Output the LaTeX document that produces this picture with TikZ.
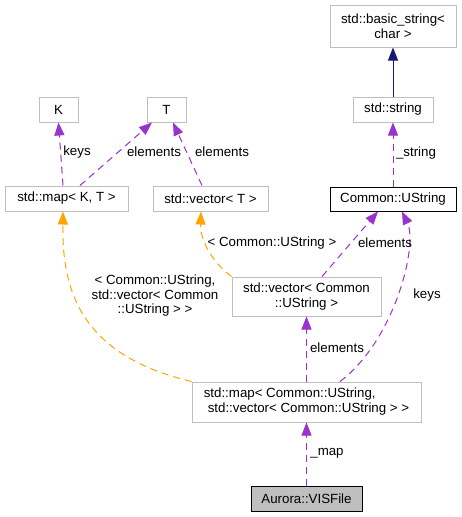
\documentclass[tikz,border=0pt]{standalone}
\usepackage{fontspec}
\setmainfont{Liberation Sans}
\usetikzlibrary{arrows.meta}
\definecolor{edgepurple}{HTML}{9A32CD}
\definecolor{edgeorange}{HTML}{FFA500}
\definecolor{edgenavy}{HTML}{191970}
\definecolor{boxgray}{HTML}{BFBFBF}
\tikzset{
  box/.style={draw=boxgray, line width=1pt, fill=white, inner sep=0pt, align=center, font=\fontsize{13.3}{15}\selectfont},
  mainbox/.style={box, draw=black},
  focusbox/.style={box, draw=black, fill=boxgray},
  lbl/.style={inner sep=0pt, align=center, font=\fontsize{13.3}{14.5}\selectfont},
  tip/.style={-{Triangle[length=13pt,width=10pt]}},
  usage/.style={tip, draw=edgepurple, line width=1pt, dash pattern=on 7pt off 5pt},
  tmpl/.style={tip, draw=edgeorange, line width=1pt, dash pattern=on 7pt off 5pt},
  inherit/.style={tip, draw=edgenavy, line width=1pt},
}
\begin{document}
\begin{tikzpicture}[x=1pt,y=-1pt]
\useasboundingbox (0,0) rectangle (462,517);
\fill[white] (0,0) rectangle (462,517);
% nodes
\node[box, minimum width=126, minimum height=42] (bs) at (393,26) {std::basic\_string<\\char >};
\node[box, minimum width=80, minimum height=25] (str) at (393,109.5) {std::string};
\node[mainbox, minimum width=126, minimum height=24] (us) at (393,199) {Common::UString};
\node[box, minimum width=39, minimum height=25] (K) at (58.5,109.5) {K};
\node[box, minimum width=39, minimum height=25] (T) at (166.5,109.5) {T};
\node[box, minimum width=123, minimum height=25] (mapKT) at (66.5,198.5) {std::map< K, T >};
\node[box, minimum width=115, minimum height=25] (vecT) at (210.5,198.5) {std::vector< T >};
\node[box, minimum width=149, minimum height=39] (vecCU) at (306.5,296.5) {std::vector< Common\\::UString >};
\node[box, align=left, minimum width=229, minimum height=40] (mapCU) at (306.5,402) {std::map< Common::UString,\\\hspace*{0.3em}std::vector< Common::UString > >};
\node[focusbox, minimum width=111, minimum height=25] (vis) at (306.5,498.5) {Aurora::VISFile};
% edges
\draw[inherit] (str.north) -- (bs.south);
\draw[usage] (us.north) -- (str.south);
\draw[usage] ([xshift=-3.5]mapKT.north) -- (K.south);
\draw[usage] ([xshift=13.5]mapKT.north) -- ([xshift=-14.5]T.south);
\draw[usage] ([xshift=-8.5]vecT.north) -- ([xshift=6.5]T.south);
\draw[tmpl] (vecCU.north west) .. controls (212,262) and (200,240) .. ([xshift=-9.5]vecT.south);
\draw[usage] ([xshift=15.5]vecCU.north) -- ([xshift=-15]us.south);
\draw[tmpl] (mapCU.north west) .. controls (80,355) and (62,290) .. ([xshift=-3.5]mapKT.south);
\draw[usage] ([xshift=33.5]mapCU.north) .. controls (395,340) and (418,245) .. ([xshift=9]us.south);
\draw[usage] (mapCU.north) -- (vecCU.south);
\draw[usage] (vis.north) -- (mapCU.south);
% labels
\node[lbl] (l1) at (416,153) {\_string};
\node[lbl] (l2) at (77,152) {keys};
\node[lbl] (l3) at (154,152) {elements};
\node[lbl] (l4) at (222,152) {elements};
\node[lbl] (l5) at (272,243) {< Common::UString >};
\node[lbl] (l6) at (385,243) {elements};
\node[lbl] (l7) at (155,296) {< Common::UString,\\std::vector< Common\\::UString > >};
\node[lbl] (l8) at (427,295) {keys};
\node[lbl] (l9) at (337,348) {elements};
\node[lbl] (l10) at (327,453) {\_map};
\end{tikzpicture}
\end{document}
